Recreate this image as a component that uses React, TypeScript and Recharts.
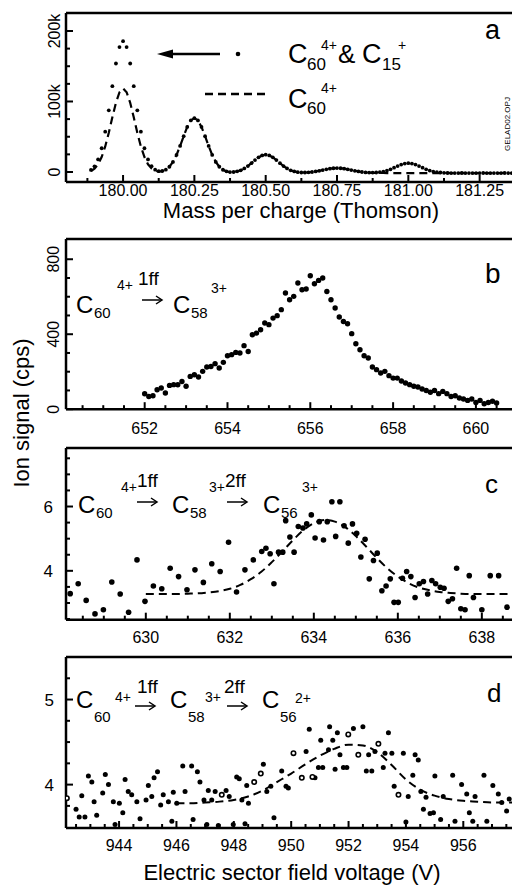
import React from 'react';
import { ComposedChart, Scatter, Line, XAxis, YAxis, ReferenceLine } from 'recharts';

const FONT = "'Liberation Sans', Arial, Helvetica, sans-serif";

// ---- panel a: mass spectrum (counts in k)
const massA = [
  179.8875, 179.9, 179.9125, 179.925, 179.9375, 179.95, 179.9625, 179.975, 179.9875, 180,
  180.0125, 180.025, 180.0375, 180.05, 180.0625, 180.075, 180.0875, 180.1, 180.1125, 180.125,
  180.1375, 180.15, 180.1625, 180.175, 180.1875, 180.2, 180.2125, 180.225, 180.2375, 180.25,
  180.2625, 180.275, 180.2875, 180.3, 180.3125, 180.325, 180.3375, 180.35, 180.3625, 180.375,
  180.3875, 180.4, 180.4125, 180.425, 180.4375, 180.45, 180.4625, 180.475, 180.4875, 180.5,
  180.5125, 180.525, 180.5375, 180.55, 180.5625, 180.575, 180.5875, 180.6, 180.6125, 180.625,
  180.6375, 180.65, 180.6625, 180.675, 180.6875, 180.7, 180.7125, 180.725, 180.7375, 180.75,
  180.7625, 180.775, 180.7875, 180.8, 180.8125, 180.825, 180.8375, 180.85, 180.8625, 180.875,
  180.8875, 180.9, 180.9125, 180.925, 180.9375, 180.95, 180.9625, 180.975, 180.9875, 181,
  181.0125, 181.025, 181.0375, 181.05, 181.0625, 181.075, 181.0875, 181.1, 181.1125, 181.125,
  181.1375, 181.15, 181.1625, 181.175, 181.1875, 181.2, 181.2125, 181.225, 181.2375, 181.25,
  181.2625, 181.275, 181.2875, 181.3, 181.3125, 181.325, 181.3375, 181.35, 181.3625, 181.375,
  181.3875, 181.4, 181.4125, 181.425,
];
const signalA = [
  2.9, 8.1, 17.8, 33.7, 57.2, 87.5, 121.7, 153.9, 177.1, 185.5,
  177.1, 153.9, 121.7, 87.5, 57.2, 33.7, 17.8, 8.3, 3.3, 1.2,
  1.4, 3.3, 7.4, 14.3, 24.2, 36.9, 50.8, 63.9, 73.1, 76.5,
  73.1, 63.9, 50.8, 36.9, 24.2, 14.3, 7.4, 3.2, 0.9, -0.1,
  0.0, 0.9, 2.4, 5.0, 8.4, 12.5, 16.9, 20.8, 23.5, 24.5,
  23.5, 20.8, 16.9, 12.5, 8.4, 5.0, 2.4, 0.8, -0.2, -0.7,
  -0.7, -0.5, 0.0, 0.8, 1.7, 2.7, 3.8, 4.7, 5.3, 5.5,
  5.3, 4.7, 3.8, 2.7, 1.7, 0.8, 0.0, -0.6, -0.8, -0.9,
  -0.7, -0.2, 0.6, 2.0, 3.8, 6.1, 8.4, 10.5, 12.0, 12.5,
  12.0, 10.5, 8.4, 6.1, 3.8, 2.0, 0.6, -0.2, -0.7, -1.2,
  -1.4, -1.5, -1.6, -1.5, -1.4, -1.5, -1.5, -1.6, -1.5, -1.5,
  -1.4, -1.5, -1.6, -1.5, -1.5, -1.5, -1.4, -1.5, -1.5, -1.6,
  -1.5, -1.5, -1.5, -1.5,
];
// C60 4+ alone (dashed)
const c60A = [
  1.3, 4.7, 10.9, 21.1, 36.2, 55.6, 77.6, 98.2, 113.1, 118.5,
  113.1, 98.2, 77.6, 55.6, 36.2, 21.1, 10.9, 4.9, 1.7, 0.6,
  1.1, 3.2, 7.4, 14.3, 24.2, 36.9, 50.8, 63.9, 73.1, 76.5,
  73.1, 63.9, 50.8, 36.9, 24.2, 14.3, 7.4, 3.2, 0.9, -0.1,
  0.0, 0.9, 2.4, 5.0, 8.4, 12.5, 16.9, 20.8, 23.5, 24.5,
  23.5, 20.8, 16.9, 12.5, 8.4, 5.0, 2.4, 0.8, -0.2, -0.7,
  -0.7, -0.5, 0.0, 0.8, 1.7, 2.7, 3.8, 4.7, 5.3, 5.5,
  5.3, 4.7, 3.8, 2.7, 1.7, 0.8, 0.0, -0.6, -0.9, -1.2,
  -1.3, -1.4, -1.4, -1.5, -1.5, -1.5, -1.5, -1.5, -1.5, -1.5,
  -1.5, -1.5, -1.5, -1.5, -1.5, -1.5, -1.5, -1.5, -1.5, -1.5,
  -1.4, -1.5, -1.6, -1.5, -1.4, -1.5, -1.5, -1.6, -1.5, -1.5,
  -1.4, -1.5, -1.6, -1.5, -1.5, -1.5, -1.4, -1.5, -1.5, -1.6,
  -1.5, -1.5, -1.5, -1.5,
];
const massMajor = [180, 180.25, 180.5, 180.75, 181, 181.25];
const massMinor = [179.875, 180.125, 180.375, 180.625, 180.875, 181.125, 181.375];
const countMajor = [0, 100, 200];
const countMinor = [25, 50, 75, 125, 150, 175];

// ---- panel b: C60 4+ -> C58 3+
const voltB = [
  652, 652.1, 652.2, 652.3, 652.4, 652.5, 652.6, 652.7, 652.8, 652.9,
  653, 653.1, 653.2, 653.3, 653.4, 653.5, 653.6, 653.7, 653.8, 653.9,
  654, 654.1, 654.2, 654.3, 654.4, 654.5, 654.6, 654.7, 654.8, 654.9,
  655, 655.1, 655.2, 655.3, 655.4, 655.5, 655.6, 655.7, 655.8, 655.9,
  656, 656.1, 656.2, 656.3, 656.4, 656.5, 656.6, 656.7, 656.8, 656.9,
  657, 657.1, 657.2, 657.3, 657.4, 657.5, 657.6, 657.7, 657.8, 657.9,
  658, 658.1, 658.2, 658.3, 658.4, 658.5, 658.6, 658.7, 658.8, 658.9,
  659, 659.1, 659.2, 659.3, 659.4, 659.5, 659.6, 659.7, 659.8, 659.9,
  660, 660.1, 660.2, 660.3, 660.4, 660.5,
];
const signalB = [
  82, 68, 72, 104, 113, 86, 127, 131, 130, 148,
  122, 175, 184, 172, 202, 225, 228, 243, 220, 250,
  285, 291, 303, 300, 339, 308, 397, 406, 424, 460,
  451, 486, 499, 531, 620, 584, 602, 673, 637, 641,
  712, 669, 687, 700, 628, 584, 540, 492, 468, 456,
  403, 349, 317, 285, 273, 225, 211, 193, 202, 179,
  166, 166, 150, 140, 131, 122, 118, 108, 100, 90,
  100, 83, 95, 83, 68, 72, 60, 54, 47, 54,
  36, 47, 29, 36, 42, 33,
];
const voltBMajor = [652, 654, 656, 658, 660];
const voltBMinor = [650.5, 651, 651.5, 652.5, 653, 653.5, 654.5, 655, 655.5, 656.5, 657, 657.5, 658.5, 659, 659.5, 660.5, 661];
const cpsBMajor = [0, 400, 800];
const cpsBMinor = [100, 200, 300, 500, 600, 700];

// ---- panel c: C60 4+ -> C58 3+ -> C56 3+
const voltC = [
  628.2, 628.39, 628.58, 628.79, 628.99, 629.19, 629.39, 629.59, 629.79, 629.98,
  630.18, 630.38, 630.58, 630.78, 630.98, 631.17, 631.37, 631.57, 631.77, 631.97,
  632.16, 632.36, 632.56, 632.76, 632.86, 632.96, 633.05, 633.16, 633.26, 633.33,
  633.43, 633.53, 633.63, 633.74, 633.83, 633.94, 634.03, 634.13, 634.23, 634.32,
  634.43, 634.52, 634.62, 634.72, 634.82, 634.92, 635.02, 635.12, 635.22, 635.32,
  635.42, 635.51, 635.62, 635.72, 635.82, 635.91, 636.01, 636.11, 636.21, 636.31,
  636.41, 636.51, 636.61, 636.71, 636.81, 636.9, 637.01, 637.1, 637.2, 637.3,
  637.4, 637.5, 637.6, 637.7, 637.8, 638.0, 638.2, 638.4, 638.6,
];
const signalC = [
  3.29, 3.6, 3.08, 2.66, 2.79, 3.65, 3.28, 2.71, 4.34, 3.05,
  3.53, 3.44, 4.08, 3.82, 3.41, 4.03, 3.64, 4.22, 3.98, 4.89,
  3.34, 4.03, 4.34, 4.6, 4.7, 4.53, 3.6, 4.58, 4.58, 5.56,
  5.05, 4.58, 5.38, 5.33, 5.46, 5.74, 5.02, 5.53, 4.96, 5.53,
  6.15, 5.07, 6.15, 5.4, 4.86, 5.46, 5.17, 4.43, 4.98, 3.75,
  4.32, 4.55, 3.38, 3.53, 3.75, 3.02, 3.02, 3.77, 3.98, 3.82,
  3.17, 3.6, 3.67, 3.28, 3.7, 3.6, 3.49, 3.46, 3.05, 3.13,
  4.08, 2.82, 2.79, 3.85, 3.17, 2.79, 3.85, 3.85, 2.87,
];
const fitVoltC = [
  630, 630.25, 630.5, 630.75, 631, 631.25, 631.5, 631.75, 632, 632.25,
  632.5, 632.75, 633, 633.25, 633.5, 633.75, 634, 634.25, 634.5, 634.75,
  635, 635.25, 635.5, 635.75, 636, 636.25, 636.5, 636.75, 637, 637.25,
  637.5, 637.75, 638, 638.25, 638.5, 638.75, 639, 639.25,
];
const fitC = [
  3.28, 3.28, 3.28, 3.28, 3.29, 3.3, 3.33, 3.37, 3.44, 3.56,
  3.74, 3.97, 4.27, 4.6, 4.95, 5.26, 5.48, 5.58, 5.53, 5.36,
  5.08, 4.75, 4.4, 4.08, 3.82, 3.62, 3.48, 3.4, 3.34, 3.31,
  3.29, 3.28, 3.28, 3.28, 3.28, 3.28, 3.28, 3.28,
];
const voltCMajor = [630, 632, 634, 636, 638];
const voltCMinor = [628.5, 629, 629.5, 630.5, 631, 631.5, 632.5, 633, 633.5, 634.5, 635, 635.5, 636.5, 637, 637.5, 638.5, 639];
const cpsCMajor = [4, 6];
const cpsCMinor = [2.5, 3, 3.5, 4.5, 5, 5.5, 6.5, 7, 7.5];

// ---- panel d: C60 4+ -> C58 3+ -> C56 2+
const voltD = [
  942.5, 942.61, 942.7, 942.81, 942.93, 943.05, 943.13, 943.22, 943.43, 943.52,
  943.63, 943.8, 943.86, 944.01, 944.13, 944.21, 944.32, 944.44, 944.62, 944.73,
  944.94, 945.02, 945.14, 945.22, 945.34, 945.45, 945.54, 945.72, 945.84, 945.89,
  946.01, 946.22, 946.3, 946.53, 946.58, 946.73, 946.82, 946.96, 947.06, 947.11,
  947.23, 947.35, 947.46, 947.73, 947.84, 947.98, 948.1, 948.19, 948.28, 948.39,
  948.45, 948.51, 949.03, 949.15, 949.29, 949.4, 949.67, 949.82, 949.9, 950.52,
  950.63, 950.83, 950.95, 951.03, 951.1, 951.3, 951.34, 951.45, 951.53, 951.61,
  951.7, 951.82, 951.94, 952.17, 952.5, 952.62, 952.7, 952.81, 952.92, 953.21,
  953.27, 953.39, 953.51, 953.59, 953.91, 954.0, 954.08, 954.24, 954.32, 954.43,
  954.52, 954.61, 954.7, 954.84, 954.96, 955.01, 955.21, 955.3, 955.63, 955.71,
  955.94, 956.12, 956.21, 956.33, 956.41, 956.72, 956.82, 957.03, 957.22, 957.34,
  957.51, 957.6,
];
const signalD = [
  3.71, 3.62, 3.87, 3.62, 4.1, 4.03, 3.8, 3.64, 3.9, 4.12,
  4.0, 3.8, 3.53, 3.78, 3.67, 4.06, 3.92, 3.88, 3.8, 3.6,
  3.82, 3.99, 3.86, 4.08, 4.15, 3.76, 3.88, 3.8, 3.57, 3.91,
  3.78, 4.22, 3.92, 4.22, 3.59, 4.15, 4.03, 3.82, 3.53, 3.93,
  3.82, 3.92, 3.52, 3.93, 3.86, 3.53, 4.09, 4.07, 3.82, 3.54,
  3.99, 3.78, 4.24, 3.92, 3.98, 3.61, 4.16, 3.98, 3.96, 4.39,
  4.65, 4.08, 4.2, 4.52, 4.2, 4.41, 4.68, 4.52, 4.18, 4.61,
  4.35, 4.2, 4.2, 4.66, 4.68, 4.16, 4.35, 4.16, 4.39, 4.2,
  4.37, 4.61, 4.37, 3.98, 4.37, 3.56, 3.86, 4.11, 4.35, 4.29,
  3.92, 3.71, 3.85, 3.66, 3.67, 4.1, 3.59, 3.86, 4.11, 3.57,
  4.0, 3.89, 3.67, 3.57, 3.86, 4.11, 3.57, 3.99, 3.89, 3.79,
  3.69, 3.83,
];
const openVoltD = [942.18, 947.58, 948.71, 948.94, 950.08, 950.37, 950.74, 951.99, 952.34, 953.04, 953.74];
const openSignalD = [3.84, 3.88, 4.03, 4.13, 4.37, 4.08, 4.09, 4.59, 4.35, 4.48, 3.88];
const fitVoltD = [
  946, 946.5, 947, 947.5, 948, 948.5, 949, 949.5, 950, 950.5,
  951, 951.5, 952, 952.5, 953, 953.5, 954, 954.5, 955, 955.5,
  956, 956.5, 957, 957.5, 958, 958.5,
];
const fitD = [
  3.78, 3.78, 3.79, 3.8, 3.82, 3.86, 3.93, 4.03, 4.13, 4.24,
  4.34, 4.42, 4.47, 4.46, 4.38, 4.23, 4.06, 3.94, 3.87, 3.83,
  3.81, 3.8, 3.79, 3.79, 3.79, 3.79,
];
const voltDMajor = [944, 946, 948, 950, 952, 954, 956];
const voltDMinor = [942.5, 943, 943.5, 944.5, 945, 945.5, 946.5, 947, 947.5, 948.5, 949, 949.5, 950.5, 951, 951.5, 952.5, 953, 953.5, 954.5, 955, 955.5, 956.5, 957, 957.5, 958];
const cpsDMajor = [4, 5];
const cpsDMinor = [3.75, 4.25, 4.5, 4.75, 5.25];

const zip = (xs: number[], ys: number[]) => xs.map((x, i) => ({ x, y: ys[i] }));

const XTick = (props: any) => {
  const { x, y, payload, majors, fmt, dy } = props;
  const major = majors.includes(payload.value);
  return (
    <g>
      <line x1={x} x2={x} y1={y} y2={y - (major ? 7 : 4)} stroke="#000" strokeWidth={2} />
      {major && (
        <text x={x} y={y + dy} textAnchor="middle" fontSize={16} fontFamily={FONT} fill="#000">
          {fmt(payload.value)}
        </text>
      )}
    </g>
  );
};

const YTick = (props: any) => {
  const { x, y, payload, majors, fmt, rotated, lx } = props;
  const major = majors.includes(payload.value);
  return (
    <g>
      <line x1={x} x2={x + (major ? 7 : 4)} y1={y} y2={y} stroke="#000" strokeWidth={2} />
      {major && rotated && (
        <text x={lx} y={y} transform={`rotate(-90 ${lx} ${y})`} textAnchor="middle" fontSize={16} fontFamily={FONT} fill="#000">
          {fmt(payload.value)}
        </text>
      )}
      {major && !rotated && (
        <text x={lx} y={y + 6} textAnchor="end" fontSize={17} fontFamily={FONT} fill="#000">
          {fmt(payload.value)}
        </text>
      )}
    </g>
  );
};

interface PanelProps {
  top: number;
  plotH: number;
  xDomain: [number, number];
  yDomain: [number, number];
  xMajor: number[];
  xMinor: number[];
  yMajor: number[];
  yMinor: number[];
  xFmt: (v: number) => string;
  yFmt: (v: number) => string;
  xLabelDy: number;
  yRotated: boolean;
  yLabelX: number;
  children: React.ReactNode;
}

const axisStyle = { stroke: '#000', strokeWidth: 2.5 };

function Panel(p: PanelProps) {
  const xt = [...p.xMajor, ...p.xMinor].sort((a, b) => a - b);
  const yt = [...p.yMajor, ...p.yMinor].sort((a, b) => a - b);
  return (
    <div style={{ position: 'absolute', left: 0, top: p.top - 10 }}>
      <ComposedChart width={531} height={p.plotH + 50} margin={{ top: 10, right: 0, bottom: 0, left: 0 }}>
        <XAxis
          type="number"
          dataKey="x"
          domain={p.xDomain}
          allowDataOverflow
          ticks={xt}
          interval={0}
          height={40}
          tickSize={0}
          tickMargin={0}
          tickLine={false}
          axisLine={axisStyle}
          tick={(t: any) => <XTick {...t} majors={p.xMajor} fmt={p.xFmt} dy={p.xLabelDy} />}
        />
        <YAxis
          type="number"
          dataKey="y"
          domain={p.yDomain}
          allowDataOverflow
          ticks={yt}
          interval={0}
          width={66}
          tickSize={0}
          tickMargin={0}
          tickLine={false}
          axisLine={axisStyle}
          tick={(t: any) => <YTick {...t} majors={p.yMajor} fmt={p.yFmt} rotated={p.yRotated} lx={p.yLabelX} />}
        />
        <ReferenceLine y={p.yDomain[1]} stroke="#000" strokeWidth={2.5} />
        {p.children}
      </ComposedChart>
    </div>
  );
}

const dot = (r: number) => (s: any) => <circle cx={s.cx} cy={s.cy} r={r} fill="#000" />;
const ring = (s: any) => <circle cx={s.cx} cy={s.cy} r={2.2} fill="#fff" stroke="#000" strokeWidth={1.6} />;

const Txt = ({ x, y, s, a, children }: any) => (
  <text x={x} y={y} fontSize={s} textAnchor={a || 'start'} fontFamily={FONT} fill="#000">
    {children}
  </text>
);

// reaction arrow drawn as a thin shaft with an open head
const Arrow = ({ x, y, w }: any) => (
  <g stroke="#000" strokeWidth={1.5} fill="none">
    <line x1={x} y1={y} x2={x + w} y2={y} />
    <polyline points={`${x + w - 6},${y - 4} ${x + w},${y} ${x + w - 6},${y + 4}`} />
  </g>
);

export default function App() {
  return (
    <div style={{ position: 'absolute', left: 0, top: 0, width: 512, height: 886, overflow: 'hidden', background: '#fff', fontFamily: FONT }}>
      <Panel
        top={13}
        plotH={169}
        xDomain={[179.8, 181.43]}
        yDomain={[-14.2, 225.5]}
        xMajor={massMajor}
        xMinor={massMinor}
        yMajor={countMajor}
        yMinor={countMinor}
        xFmt={(v) => v.toFixed(2)}
        yFmt={(v) => (v === 0 ? '0' : `${v}k`)}
        xLabelDy={14}
        yRotated
        yLabelX={60}
      >
        <Line data={zip(massA, c60A)} dataKey="y" type="linear" stroke="#000" strokeWidth={2.2} strokeDasharray="8 5" dot={false} isAnimationActive={false} />
        <Scatter data={zip(massA, signalA)} shape={dot(1.9)} isAnimationActive={false} />
      </Panel>

      <Panel
        top={239.3}
        plotH={170.2}
        xDomain={[650.1, 661.33]}
        yDomain={[0, 908]}
        xMajor={voltBMajor}
        xMinor={voltBMinor}
        yMajor={cpsBMajor}
        yMinor={cpsBMinor}
        xFmt={(v) => String(v)}
        yFmt={(v) => String(v)}
        xLabelDy={24.5}
        yRotated
        yLabelX={59}
      >
        <Scatter data={zip(voltB, signalB)} shape={dot(2.7)} isAnimationActive={false} />
      </Panel>

      <Panel
        top={448.3}
        plotH={171.7}
        xDomain={[628.1, 639.17]}
        yDomain={[2.48, 7.82]}
        xMajor={voltCMajor}
        xMinor={voltCMinor}
        yMajor={cpsCMajor}
        yMinor={cpsCMinor}
        xFmt={(v) => String(v)}
        yFmt={(v) => String(v)}
        xLabelDy={23}
        yRotated={false}
        yLabelX={53}
      >
        <Line data={zip(fitVoltC, fitC)} dataKey="y" type="monotone" stroke="#000" strokeWidth={2} strokeDasharray="8 5" dot={false} isAnimationActive={false} />
        <Scatter data={zip(voltC, signalC)} shape={dot(2.8)} isAnimationActive={false} />
      </Panel>

      <Panel
        top={657.3}
        plotH={171}
        xDomain={[942.15, 958.36]}
        yDomain={[3.49, 5.5]}
        xMajor={voltDMajor}
        xMinor={voltDMinor}
        yMajor={cpsDMajor}
        yMinor={cpsDMinor}
        xFmt={(v) => String(v)}
        yFmt={(v) => String(v)}
        xLabelDy={22.7}
        yRotated={false}
        yLabelX={54}
      >
        <Line data={zip(fitVoltD, fitD)} dataKey="y" type="monotone" stroke="#000" strokeWidth={2} strokeDasharray="8 5" dot={false} isAnimationActive={false} />
        <Scatter data={zip(voltD, signalD)} shape={dot(2.5)} isAnimationActive={false} />
        <Scatter data={zip(openVoltD, openSignalD)} shape={ring} isAnimationActive={false} />
      </Panel>

      <svg width={512} height={886} style={{ position: 'absolute', left: 0, top: 0, pointerEvents: 'none' }}>
        {/* panel a legend */}
        <polygon points="157,54 173,49.5 173,58.5" fill="#000" />
        <line x1={170} y1={54} x2={220} y2={54} stroke="#000" strokeWidth={2.5} />
        <circle cx={238} cy={54} r={2.3} fill="#000" />
        <Txt x={288} y={63} s={27}>C</Txt>
        <Txt x={307} y={70} s={17}>60</Txt>
        <Txt x={321} y={50} s={14}>4+</Txt>
        <Txt x={338} y={63} s={26}>&amp;</Txt>
        <Txt x={362} y={63} s={27}>C</Txt>
        <Txt x={382} y={70} s={17}>15</Txt>
        <Txt x={398} y={50} s={14}>+</Txt>
        <line x1={205} y1={94} x2={268} y2={94} stroke="#000" strokeWidth={2.5} strokeDasharray="8 5" />
        <Txt x={288} y={108} s={27}>C</Txt>
        <Txt x={307} y={114} s={17}>60</Txt>
        <Txt x={321} y={93} s={14}>4+</Txt>
        <Txt x={485} y={39} s={27}>a</Txt>
        <text x={510} y={124} transform="rotate(-90 510 124)" textAnchor="middle" fontSize={8} fontFamily={FONT} fill="#000">
          GELAD02.OPJ
        </text>

        {/* panel b formula */}
        <Txt x={76} y={313} s={24}>C</Txt>
        <Txt x={94} y={318} s={15}>60</Txt>
        <Txt x={117} y={290} s={14}>4+</Txt>
        <Txt x={138} y={285} s={19}>1ff</Txt>
        <Arrow x={142} y={300} w={20} />
        <Txt x={173} y={313} s={24}>C</Txt>
        <Txt x={191} y={318} s={15}>58</Txt>
        <Txt x={211} y={293} s={14}>3+</Txt>
        <Txt x={485} y={283} s={28}>b</Txt>

        {/* panel c formula */}
        <Txt x={78} y={513} s={24}>C</Txt>
        <Txt x={96} y={518} s={15}>60</Txt>
        <Txt x={121} y={492} s={14}>4+</Txt>
        <Txt x={137} y={487} s={19}>1ff</Txt>
        <Arrow x={137} y={502} w={20} />
        <Txt x={172} y={513} s={24}>C</Txt>
        <Txt x={190} y={518} s={15}>58</Txt>
        <Txt x={209} y={492} s={14}>3+</Txt>
        <Txt x={225} y={487} s={19}>2ff</Txt>
        <Arrow x={227} y={502} w={20} />
        <Txt x={263} y={513} s={24}>C</Txt>
        <Txt x={281} y={518} s={15}>56</Txt>
        <Txt x={302} y={492} s={14}>3+</Txt>
        <Txt x={485} y={493} s={26}>c</Txt>

        {/* panel d formula */}
        <Txt x={76} y={708} s={24}>C</Txt>
        <Txt x={94} y={722} s={15}>60</Txt>
        <Txt x={115} y={702} s={14}>4+</Txt>
        <Txt x={137} y={693} s={19}>1ff</Txt>
        <Arrow x={135} y={706} w={20} />
        <Txt x={170} y={708} s={24}>C</Txt>
        <Txt x={188} y={722} s={15}>58</Txt>
        <Txt x={205} y={702} s={14}>3+</Txt>
        <Txt x={224} y={693} s={19}>2ff</Txt>
        <Arrow x={227} y={706} w={20} />
        <Txt x={262} y={708} s={24}>C</Txt>
        <Txt x={280} y={722} s={15}>56</Txt>
        <Txt x={295} y={703} s={14}>2+</Txt>
        <Txt x={487} y={702} s={26}>d</Txt>

        {/* axis titles */}
        <Txt x={301} y={218} s={22} a="middle">Mass per charge (Thomson)</Txt>
        <text x={29} y={413} transform="rotate(-90 29 413)" textAnchor="middle" fontSize={22} fontFamily={FONT} fill="#000">
          Ion signal (cps)
        </text>
        <Txt x={292} y={880} s={22} a="middle">Electric sector field voltage (V)</Txt>
      </svg>
    </div>
  );
}
